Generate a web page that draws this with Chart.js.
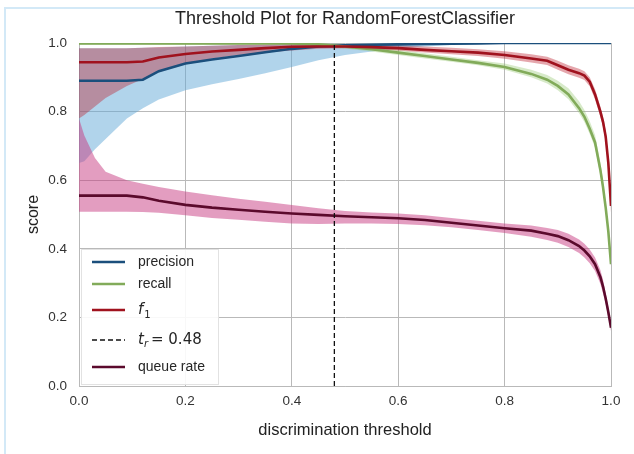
<!DOCTYPE html>
<html>
<head>
<meta charset="utf-8">
<script src="https://cdn.jsdelivr.net/npm/chart.js@4.4.1/dist/chart.umd.min.js"></script>
<style>
  html, body { margin: 0; padding: 0; background: #fff; }
  #wrap { position: relative; width: 634px; height: 454px; overflow: hidden; }
  #frame { position: absolute; left: 4px; top: 7px; width: 700px; height: 500px;
           border-left: 2px solid #d3e9f7; border-top: 2px solid #d3e9f7; }
  canvas { position: absolute; left: 0; top: 0; }
</style>
</head>
<body>
<div id="wrap">
  <div id="frame"></div>
  <canvas id="chart" width="634" height="454"></canvas>
</div>
<script>
// discrimination thresholds (x) shared by every series
const thresholds = [0, 0.01, 0.03, 0.05, 0.09, 0.12, 0.15, 0.2, 0.25, 0.3, 0.35, 0.4, 0.45, 0.5, 0.55, 0.6, 0.65,
  0.7, 0.75, 0.8, 0.85, 0.88, 0.9, 0.92, 0.94, 0.95, 0.96, 0.97, 0.98, 0.985, 0.99, 0.995, 1.0];

const precision = [0.89, 0.89, 0.89, 0.89, 0.89, 0.893, 0.918, 0.94, 0.952, 0.962, 0.973, 0.983, 0.99, 0.993, 0.995,
  0.996, 0.997, 0.998, 0.999, 1, 1, 1, 1, 1, 1, 1, 1, 1, 1, 1, 1, 1, 1];
const precisionUpper = [0.985, 0.985, 0.985, 0.985, 0.985, 0.986, 0.987, 0.99, 0.992, 0.994, 0.995, 0.996, 0.997,
  0.998, 0.998, 0.999, 0.999, 1, 1, 1, 1, 1, 1, 1, 1, 1, 1, 1, 1, 1, 1, 1, 1];
const precisionLower = [0.65, 0.655, 0.69, 0.72, 0.78, 0.81, 0.835, 0.862, 0.88, 0.895, 0.912, 0.93, 0.95, 0.965,
  0.975, 0.985, 0.99, 0.994, 0.996, 0.998, 0.998, 0.998, 0.998, 0.998, 0.998, 0.998, 0.998, 0.998, 0.998, 0.998,
  0.998, 0.998, 0.998];

const recall = [0.999, 0.999, 0.999, 0.999, 0.999, 0.999, 0.999, 0.999, 0.999, 0.999, 0.999, 0.999, 0.996, 0.99,
  0.982, 0.972, 0.962, 0.952, 0.942, 0.93, 0.91, 0.893, 0.875, 0.85, 0.81, 0.785, 0.75, 0.71, 0.63, 0.58, 0.52,
  0.45, 0.355];
const recallUpper = [1, 1, 1, 1, 1, 1, 1, 1, 1, 1, 1, 1, 1, 0.997, 0.99, 0.98, 0.97, 0.96, 0.95, 0.94, 0.922, 0.907,
  0.89, 0.868, 0.83, 0.805, 0.772, 0.732, 0.652, 0.6, 0.535, 0.46, 0.36];
const recallLower = [0.995, 0.995, 0.995, 0.995, 0.995, 0.995, 0.995, 0.995, 0.995, 0.995, 0.995, 0.995, 0.99,
  0.984, 0.975, 0.965, 0.955, 0.945, 0.935, 0.922, 0.9, 0.882, 0.862, 0.836, 0.795, 0.77, 0.735, 0.695, 0.615,
  0.565, 0.505, 0.44, 0.35];

const f1 = [0.944, 0.944, 0.944, 0.944, 0.944, 0.946, 0.958, 0.968, 0.975, 0.98, 0.985, 0.989, 0.99, 0.99, 0.988,
  0.985, 0.98, 0.976, 0.972, 0.965, 0.955, 0.948, 0.935, 0.922, 0.912, 0.905, 0.887, 0.85, 0.8, 0.77, 0.727, 0.65,
  0.525];
const f1Upper = [0.985, 0.985, 0.985, 0.985, 0.985, 0.986, 0.988, 0.99, 0.992, 0.994, 0.995, 0.996, 0.996, 0.996,
  0.995, 0.993, 0.99, 0.986, 0.982, 0.976, 0.967, 0.96, 0.948, 0.935, 0.925, 0.918, 0.9, 0.865, 0.815, 0.785, 0.745,
  0.67, 0.545];
const f1Lower = [0.78, 0.79, 0.815, 0.84, 0.875, 0.895, 0.915, 0.94, 0.955, 0.965, 0.972, 0.978, 0.983, 0.985, 0.982,
  0.978, 0.972, 0.967, 0.962, 0.954, 0.943, 0.936, 0.922, 0.909, 0.899, 0.892, 0.874, 0.835, 0.785, 0.755, 0.71,
  0.63, 0.505];

const queueRate = [0.555, 0.555, 0.555, 0.555, 0.555, 0.55, 0.54, 0.528, 0.52, 0.514, 0.508, 0.503, 0.499, 0.495,
  0.492, 0.489, 0.484, 0.476, 0.468, 0.46, 0.453, 0.444, 0.437, 0.425, 0.408, 0.395, 0.378, 0.355, 0.318, 0.29,
  0.255, 0.215, 0.17];
const queueUpper = [0.78, 0.73, 0.665, 0.625, 0.6, 0.59, 0.58, 0.567, 0.556, 0.546, 0.537, 0.528, 0.518, 0.51, 0.506,
  0.503, 0.498, 0.49, 0.482, 0.474, 0.468, 0.461, 0.455, 0.444, 0.427, 0.415, 0.398, 0.375, 0.338, 0.31, 0.27,
  0.23, 0.18];
const queueLower = [0.508, 0.508, 0.508, 0.508, 0.508, 0.507, 0.505, 0.498, 0.49, 0.485, 0.479, 0.474, 0.472, 0.474,
  0.474, 0.472, 0.469, 0.463, 0.455, 0.446, 0.435, 0.426, 0.418, 0.405, 0.388, 0.375, 0.358, 0.335, 0.298, 0.27,
  0.24, 0.2, 0.16];

const cutoff = 0.48;
const tickValues = [0, 0.2, 0.4, 0.6, 0.8, 1.0];

const pts = arr => thresholds.map((t, i) => ({ x: t, y: arr[i] }));

const colors = {
  precision: "#1b4f7c",
  recall: "#82ab5a",
  f1: "#a0121e",
  queue: "#5b0a2c",
};

function band(lower, upper, fillColor, order) {
  return [
    { data: pts(lower), borderWidth: 0, pointRadius: 0, fill: false, order: order },
    { data: pts(upper), borderWidth: 0, pointRadius: 0, fill: "-1", backgroundColor: fillColor, order: order },
  ];
}

function line(values, color, order) {
  return { data: pts(values), borderColor: color, borderWidth: 2.6, pointRadius: 0, fill: false, order: order };
}

const datasets = [
  ...band(precisionLower, precisionUpper, "rgba(100,170,215,0.5)", 80),
  ...band(recallLower, recallUpper, "rgba(140,195,100,0.35)", 70),
  ...band(f1Lower, f1Upper, "rgba(190,35,50,0.4)", 60),
  ...band(queueLower, queueUpper, "rgba(200,60,130,0.5)", 50),
  line(precision, colors.precision, 40),
  line(recall, colors.recall, 30),
  line(f1, colors.f1, 20),
  line(queueRate, colors.queue, 10),
  { data: [{ x: cutoff, y: 0 }, { x: cutoff, y: 1 }], borderColor: "#111", borderWidth: 1.3,
    borderDash: [5, 3], pointRadius: 0, fill: false, order: 5 },
];

// title + in-axes legend, drawn on top like matplotlib does
const decorations = {
  id: "decorations",
  afterDraw(chart) {
    const ctx = chart.ctx;
    const ca = chart.chartArea;
    ctx.save();
    ctx.fillStyle = "#222";
    ctx.font = '18px "Liberation Sans", Arial, sans-serif';
    ctx.textAlign = "center";
    ctx.textBaseline = "middle";
    ctx.fillText("Threshold Plot for RandomForestClassifier", (ca.left + ca.right) / 2, 19);

    // legend box
    const bx = ca.left + 2, by = ca.bottom - 137, bw = 137, bh = 135;
    ctx.fillStyle = "rgba(255,255,255,0.9)";
    ctx.fillRect(bx, by, bw, bh);
    ctx.strokeStyle = "#e2e2e2";
    ctx.lineWidth = 1;
    ctx.strokeRect(bx + 0.5, by + 0.5, bw, bh);

    const rows = [
      { label: "precision", color: colors.precision, dy: 13 },
      { label: "recall", color: colors.recall, dy: 35 },
      { label: "f1", color: colors.f1, dy: 61 },
      { label: "tr", color: "#111", dy: 91, dash: true },
      { label: "queue rate", color: colors.queue, dy: 118 },
    ];
    const x0 = bx + 11, x1 = bx + 44, tx = bx + 57;
    rows.forEach(r => {
      const y = by + r.dy;
      ctx.beginPath();
      ctx.strokeStyle = r.color;
      ctx.lineWidth = r.dash ? 1.3 : 2.6;
      ctx.setLineDash(r.dash ? [5, 3] : []);
      ctx.moveTo(x0, y);
      ctx.lineTo(x1, y);
      ctx.stroke();
      ctx.setLineDash([]);
      ctx.fillStyle = "#262626";
      ctx.textAlign = "left";
      ctx.textBaseline = "middle";
      if (r.label === "f1") {
        ctx.font = 'italic 15px "DejaVu Sans", sans-serif';
        ctx.fillText("f", tx, y);
        const w = ctx.measureText("f").width;
        ctx.font = '10px "DejaVu Sans", sans-serif';
        ctx.fillText("1", tx + w + 1, y + 5);
      } else if (r.label === "tr") {
        ctx.font = 'italic 15px "DejaVu Sans", sans-serif';
        ctx.fillText("t", tx, y);
        let w = ctx.measureText("t").width;
        ctx.font = 'italic 10px "DejaVu Sans", sans-serif';
        ctx.fillText("r", tx + w, y + 4);
        w += ctx.measureText("r").width + 3;
        ctx.font = '15px "DejaVu Sans", sans-serif';
        ctx.fillText("= 0.48", tx + w, y);
      } else {
        ctx.font = '14px "Liberation Sans", Arial, sans-serif';
        ctx.fillText(r.label, tx, y);
      }
    });
    ctx.restore();
  },
};

const gridColor = "#b9b9b9";
const tickFont = { family: '"Liberation Sans", Arial, sans-serif', size: 13.5 };

new Chart(document.getElementById("chart"), {
  type: "line",
  data: { datasets: datasets },
  options: {
    responsive: false,
    animation: false,
    layout: { padding: { top: 43, right: 23, left: 20, bottom: 10 } },
    plugins: { legend: { display: false }, tooltip: { enabled: false } },
    scales: {
      x: {
        type: "linear", min: 0, max: 1,
        afterBuildTicks: s => { s.ticks = tickValues.map(v => ({ value: v })); },
        afterFit: s => { s.height = 58; },
        ticks: { callback: v => v.toFixed(1), font: tickFont, color: "#333", padding: 7, maxRotation: 0 },
        grid: { color: gridColor, drawTicks: false },
        border: { color: gridColor },
        title: { display: true, text: "discrimination threshold", color: "#222",
          font: { family: '"Liberation Sans", Arial, sans-serif', size: 16.5 } },
      },
      y: {
        min: 0, max: 1,
        afterBuildTicks: s => { s.ticks = tickValues.map(v => ({ value: v })); },
        afterFit: s => { s.width = 59; },
        ticks: { callback: v => v.toFixed(1), font: tickFont, color: "#333", padding: 12 },
        grid: { color: gridColor, drawTicks: false },
        border: { color: gridColor },
        title: { display: true, text: "score", color: "#222",
          font: { family: '"Liberation Sans", Arial, sans-serif', size: 16 } },
      },
    },
  },
  plugins: [decorations],
});
</script>
</body>
</html>
